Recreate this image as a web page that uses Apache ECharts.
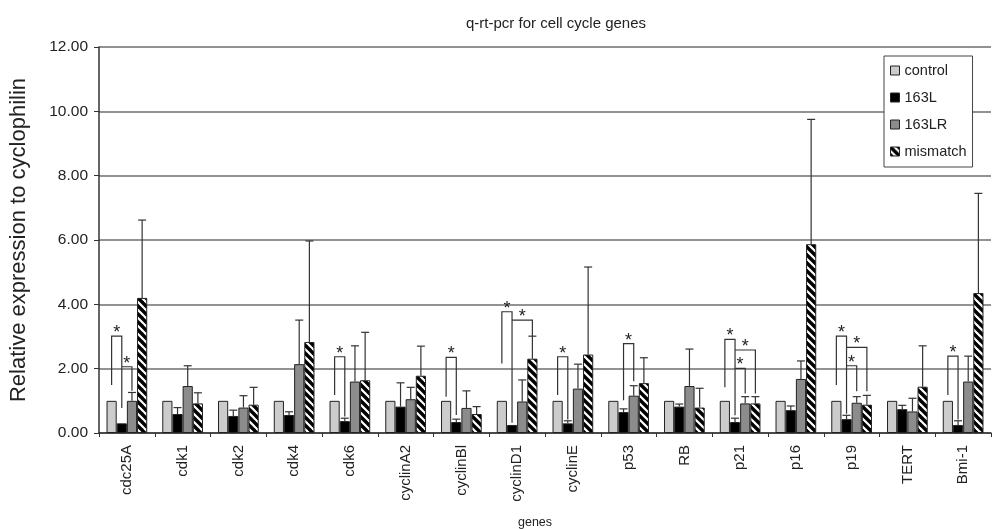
<!DOCTYPE html>
<html>
<head>
<meta charset="utf-8">
<script src="https://cdn.jsdelivr.net/npm/echarts@6/dist/echarts.min.js"></script>
<style>html,body{margin:0;padding:0;background:#fff}#c{width:992px;height:529px}</style>
</head>
<body>
<div id="c"></div>
<script>
const categories = ['cdc25A','cdk1','cdk2','cdk4','cdk6','cyclinA2','cyclinBl','cyclinD1','cyclinE','p53','RB','p21','p16','p19','TERT','Bmi-1'];
const seriesNames = ['control','163L','163LR','mismatch'];
const controlVals = [1,1,1,1,1,1,1,1,1,1,1,1,1,1,1,1];
const l163Vals   = [0.30,0.59,0.53,0.56,0.37,0.82,0.34,0.25,0.30,0.65,0.82,0.34,0.71,0.43,0.74,0.25];
const l163Err    = [null,0.79,0.71,0.66,0.46,1.56,0.43,null,0.38,0.75,0.90,0.46,0.84,0.55,0.86,0.38];
const lr163Vals  = [1.00,1.46,0.79,2.14,1.60,1.05,0.78,0.98,1.38,1.16,1.46,0.92,1.68,0.94,0.67,1.60];
const lr163Err   = [1.26,2.09,1.16,3.51,2.71,1.42,1.31,1.65,2.14,1.47,2.61,1.13,2.24,1.13,1.08,2.39];
const mismVals   = [4.20,0.92,0.88,2.83,1.64,1.78,0.59,2.31,2.44,1.55,0.79,0.92,5.87,0.88,1.44,4.35];
const mismErr    = [6.62,1.25,1.42,5.97,3.13,2.70,0.82,3.01,5.16,2.34,1.39,1.13,9.75,1.17,2.71,7.45];
// significance brackets: [category, leftBar, rightBar, top, leftLegBottom, rightLegBottom]
const brackets = [
  [0,0,1,3.01,1.49,0.78],[0,1,2,2.06,2.06,1.31],
  [4,0,1,2.37,1.18,0.51],
  [6,0,1,2.35,1.13,0.56],
  [7,0,1,3.77,2.16,0.32],[7,1,3,3.51,3.51,3.01],
  [8,0,1,2.37,1.18,0.42],
  [9,1,2,2.78,1.02,1.61],
  [11,0,1,2.91,1.42,0.55],[11,1,3,2.58,2.58,1.23],[11,1,2,2.01,2.01,1.23],
  [13,0,1,3.01,1.49,0.60],[13,1,3,2.66,2.66,1.30],[13,1,2,2.09,2.09,1.30],
  [15,0,1,2.39,1.18,0.42]
];
const yTicks = {min:0, max:12, interval:2};

const FONT = 'Liberation Sans, Arial, sans-serif';
const CAT_GAP = 0.27;

// hatch pattern
const pc = document.createElement('canvas');
pc.width = 8; pc.height = 8;
const g = pc.getContext('2d');
g.fillStyle = '#fff'; g.fillRect(0,0,8,8);
g.strokeStyle = '#000'; g.lineWidth = 3.4;
for (const k of [-8,0,8]) { g.beginPath(); g.moveTo(k-2,-2); g.lineTo(k+10,10); g.stroke(); }
const hatch = {image: pc, repeat: 'repeat'};

const colors = ['#cccccc','#000000','#8c8c8c',hatch];
const values = [controlVals,l163Vals,lr163Vals,mismVals];
const errs = [null,l163Err,lr163Err,mismErr];

function slotX(api, cat, slot) {
  const x = api.coord([cat, 0])[0];
  const bw = api.size([1, 0])[0];
  const gw = bw * (1 - CAT_GAP);
  const w = gw / 4;
  return x - gw / 2 + w * (slot + 0.5);
}

const series = [];
seriesNames.forEach((n, s) => {
  series.push({
    name: n, type: 'bar', data: values[s],
    barGap: '0%', barCategoryGap: (CAT_GAP*100)+'%',
    itemStyle: {color: colors[s], borderColor: '#222', borderWidth: 1},
    z: 2
  });
});
seriesNames.forEach((n, s) => {
  if (!errs[s]) return;
  const data = [];
  categories.forEach((c, i) => { if (errs[s][i] != null) data.push([i, values[s][i], errs[s][i]]); });
  series.push({
    type: 'custom', silent: true, z: 3, data: data,
    renderItem: function (params, api) {
      const cat = api.value(0);
      const cx = slotX(api, cat, s);
      const yb = api.coord([cat, api.value(1)])[1];
      const yt = api.coord([cat, api.value(2)])[1];
      const st = {stroke: '#333', lineWidth: 1.2};
      return {type: 'group', children: [
        {type: 'line', shape: {x1: cx, y1: yb, x2: cx, y2: yt}, style: st},
        {type: 'line', shape: {x1: cx - 4, y1: yt, x2: cx + 4, y2: yt}, style: st}
      ]};
    }
  });
});
series.push({
  type: 'custom', silent: true, z: 4, data: brackets,
  renderItem: function (params, api) {
    const cat = api.value(0);
    const xl = slotX(api, cat, api.value(1));
    const xr = slotX(api, cat, api.value(2));
    const yt = api.coord([cat, api.value(3)])[1];
    const ylb = api.coord([cat, api.value(4)])[1];
    const yrb = api.coord([cat, api.value(5)])[1];
    const st = {stroke: '#333', lineWidth: 1.2, fill: null};
    return {type: 'group', children: [
      {type: 'polyline', shape: {points: [[xl, ylb],[xl, yt],[xr, yt],[xr, yrb]]}, style: st},
      {type: 'text', style: {text: '*', x: (xl + xr) / 2, y: yt + 6, align: 'center', verticalAlign: 'bottom', font: '18px ' + FONT, fill: '#222'}}
    ]};
  }
});

const chart = echarts.init(document.getElementById('c'), null, {renderer: 'canvas'});
chart.setOption({
  animation: false,
  backgroundColor: '#fff',
  title: [
    {text: 'q-rt-pcr for cell cycle genes', left: 461, top: 11, textStyle: {fontFamily: FONT, fontSize: 15, fontWeight: 'normal', color: '#222'}},
    {text: 'genes', left: 513, top: 511, textStyle: {fontFamily: FONT, fontSize: 12.5, fontWeight: 'normal', color: '#222'}}
  ],
  legend: {
    orient: 'vertical', left: 884, top: 56,
    data: seriesNames.map(n => ({name: n, icon: 'rect'})),
    itemWidth: 9, itemHeight: 9, itemGap: 12, padding: [7, 6, 8, 6],
    backgroundColor: '#fff', borderColor: '#444', borderWidth: 1,
    textStyle: {fontFamily: FONT, fontSize: 14.5, color: '#222'},
    itemStyle: {borderColor: '#222', borderWidth: 1}
  },
  grid: {left: 93, right: 1, top: 47, bottom: 96},
  xAxis: {
    type: 'category', data: categories,
    axisLine: {lineStyle: {color: '#333', width: 1.5}},
    axisTick: {show: true, length: 4, lineStyle: {color: '#333'}},
    axisLabel: {rotate: 90, margin: 12, fontFamily: FONT, fontSize: 15, color: '#222'}
  },
  yAxis: {
    type: 'value', min: yTicks.min, max: yTicks.max, interval: yTicks.interval,
    name: 'Relative expression to cyclophilin', nameLocation: 'middle', nameGap: 69,
    nameTextStyle: {fontFamily: FONT, fontSize: 22, color: '#222'},
    axisLine: {show: true, lineStyle: {color: '#333', width: 1.5}},
    axisTick: {show: true, length: 5, lineStyle: {color: '#333'}},
    axisLabel: {margin: 11, fontFamily: FONT, fontSize: 15.5, color: '#222', formatter: v => v.toFixed(2)},
    splitLine: {lineStyle: {color: '#6e6e6e', width: 1.6}}
  },
  series: series
});
</script>
</body>
</html>
